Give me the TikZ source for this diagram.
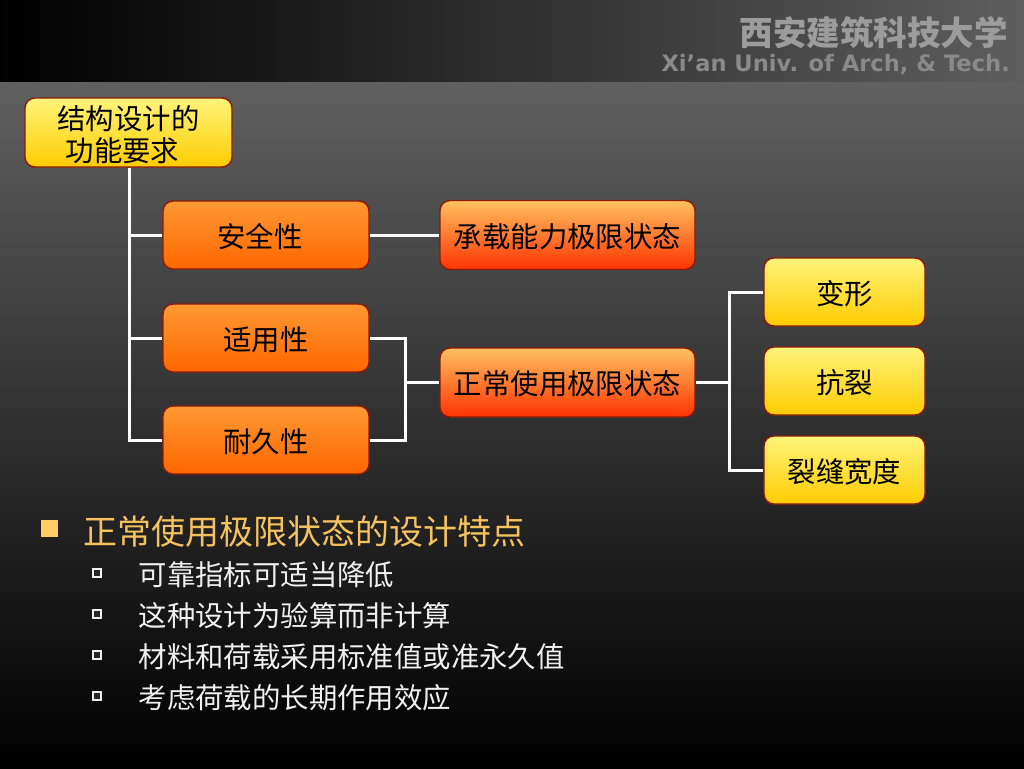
\documentclass[tikz,border=0pt]{standalone}
\usepackage{fontspec}
\setmainfont{DejaVu Sans}
\newfontfamily\cjk{Noto Sans CJK SC}
\usetikzlibrary{positioning}

\definecolor{bandgray}{HTML}{5E5E5E}
\definecolor{bodygray}{HTML}{606060}
\definecolor{boxedge}{HTML}{8B1A0A}
\definecolor{headgray}{HTML}{9C9C9C}
\definecolor{headlow}{HTML}{8A8A8A}
\definecolor{titlegold}{HTML}{F5C25F}
\definecolor{bulletgold}{HTML}{FFCC66}
\definecolor{itemgray}{HTML}{F0F0F0}
\definecolor{yellowtop}{HTML}{FFF47A}
\definecolor{yellowlow}{HTML}{FFCC00}
\definecolor{orangetop}{HTML}{FF9933}
\definecolor{orangelow}{HTML}{FF6600}
\definecolor{redtop}{HTML}{FFC060}
\definecolor{redlow}{HTML}{FF3300}

\tikzset{
    box/.style={draw=boxedge, line width=1.4pt, rounded corners=10pt, inner sep=0pt,
        align=center, text=black, font=\cjk\fontsize{28.4}{32}\selectfont},
    oneline/.style={text height=27pt, text depth=3pt},
    yellowbox/.style={box, top color=yellowtop, bottom color=yellowlow},
    orangebox/.style={box, oneline, top color=orangetop, bottom color=orangelow},
    redbox/.style={box, oneline, top color=redtop, bottom color=redlow},
    wire/.style={draw=white, line width=3pt},
    itemtext/.style={anchor=west, inner sep=0pt, text=itemgray, font=\cjk\fontsize{28.4}{28.4}\selectfont},
    itemmark/.style={draw=itemgray, fill=black!85, line width=2pt, minimum size=8pt, inner sep=0pt},
}

\begin{document}
\begin{tikzpicture}[x=1pt, y=-1pt]

    \useasboundingbox (0,0) rectangle (1024,768);

    % ── Background ───────────────────────────────────────────────────────────
    \shade[top color=bodygray, bottom color=black] (0,81) rectangle (1024,768);
    \shade[left color=black, right color=bandgray] (0,0) rectangle (1024,81);

    % ── Header ───────────────────────────────────────────────────────────────
    \node[anchor=east, inner sep=0pt, text=headgray, font=\cjk\bfseries\fontsize{33.5}{33.5}\selectfont]
        (school) at (1008,33) {西安建筑科技大学};
    \node[anchor=east, inner sep=0pt, text=headlow, font=\bfseries\fontsize{22.6}{22.6}\selectfont]
        (schooleng) at (1010,65) {Xi’an Univ. of Arch, \& Tech.};

    % ── Boxes ────────────────────────────────────────────────────────────────
    \node[yellowbox, minimum width=207pt, minimum height=69pt] (func) at (128.5,132.5)
        {\rule{0pt}{28pt}结构设计的\\功能要求\hspace*{12pt}};

    \node[orangebox, minimum width=206pt, minimum height=68pt] (safe) at (266,235) {安全性\hspace*{12pt}};
    \node[orangebox, minimum width=206pt, minimum height=68pt] (use)  at (266,338) {适用性};
    \node[orangebox, minimum width=206pt, minimum height=68pt] (dura) at (266,440) {耐久性};

    \node[redbox, minimum width=255pt, minimum height=69pt] (ulti) at (567.5,235) {承载能力极限状态};
    \node[redbox, minimum width=255pt, minimum height=69pt] (serv) at (567.5,382.5) {正常使用极限状态};

    \node[yellowbox, oneline, minimum width=161pt, minimum height=68pt] (defo)  at (844.5,292) {变形};
    \node[yellowbox, oneline, minimum width=161pt, minimum height=68pt] (crack) at (844.5,381) {抗裂};
    \node[yellowbox, oneline, minimum width=161pt, minimum height=68pt] (width) at (844.5,470) {裂缝宽度};

    % ── Connectors ───────────────────────────────────────────────────────────
    \coordinate (leftbus)  at (129,235);
    \coordinate (midbus)   at (405,382.5);
    \coordinate (rightbus) at (729,382.5);

    \draw[wire] (func.south -| leftbus) |- (safe.west);
    \draw[wire] (func.south -| leftbus) |- (use.west);
    \draw[wire] (func.south -| leftbus) |- (dura.west);
    \draw[wire] (safe.east) -- (ulti.west);
    \draw[wire] (use.east) -| (midbus);
    \draw[wire] (dura.east) -| (midbus);
    \draw[wire] (midbus) -- (serv.west);
    \draw[wire] (serv.east) -- (rightbus);
    \draw[wire] (rightbus) |- (defo.west);
    \draw[wire] (rightbus) |- (width.west);

    % ── Text list ────────────────────────────────────────────────────────────
    \node[fill=bulletgold, minimum size=17pt, inner sep=0pt] (mark) at (49.5,528.5) {};
    \node[anchor=west, inner sep=0pt, text=titlegold, font=\cjk\fontsize{34}{34}\selectfont]
        (title) at (83.5,532) {正常使用极限状态的设计特点};

    \node[itemmark] (marka) at (97,573) {};
    \node[itemtext] (itema) at (138.5,575) {可靠指标可适当降低};
    \node[itemmark] (markb) at (97,614) {};
    \node[itemtext] (itemb) at (138.5,616) {这种设计为验算而非计算};
    \node[itemmark] (markc) at (97,655) {};
    \node[itemtext] (itemc) at (138.5,657) {材料和荷载采用标准值或准永久值};
    \node[itemmark] (markd) at (97,696) {};
    \node[itemtext] (itemd) at (138.5,698) {考虑荷载的长期作用效应};

\end{tikzpicture}
\end{document}
